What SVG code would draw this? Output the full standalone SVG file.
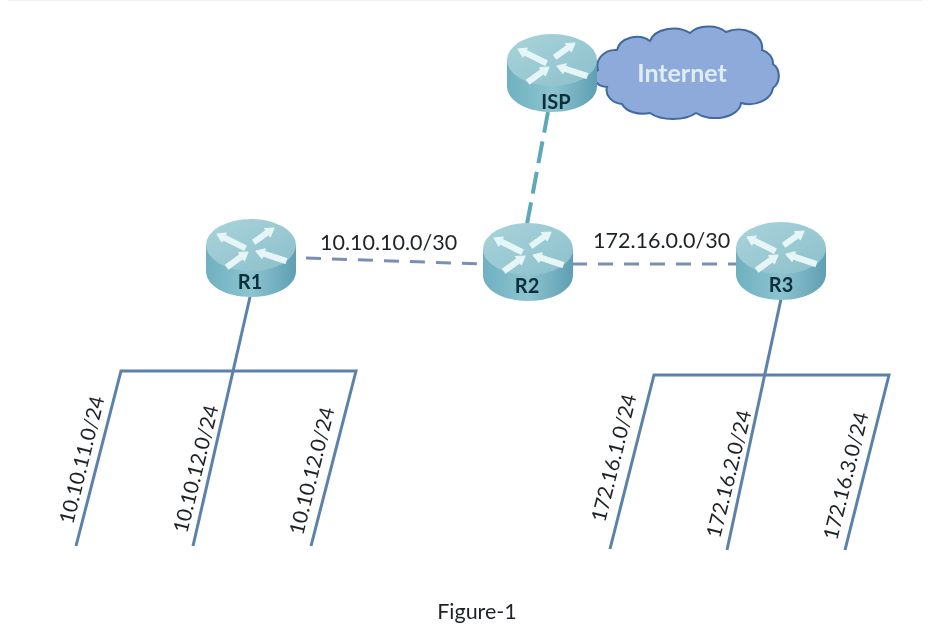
<svg xmlns="http://www.w3.org/2000/svg" width="930" height="637" viewBox="0 0 930 637">
<style>
text{font-family:Lato,"Open Sans","Liberation Sans",sans-serif;fill:#1f2326}
.lbl{font-size:21.5px}
.rl{font-size:20px;font-weight:700;fill:#0f2d3a;text-anchor:middle}
.net{font-size:20.5px}
.solid{fill:none;stroke:#5b82ac;stroke-width:3;stroke-linejoin:miter}
.dash{fill:none;stroke:#7a8fb0;stroke-width:3;stroke-dasharray:15 11}
</style>
<defs>
<filter id="soft" x="0" y="0" width="100%" height="100%"><feGaussianBlur stdDeviation="0.5"/></filter>
<linearGradient id="body" x1="0" x2="1" y1="0" y2="0"><stop offset="0" stop-color="#6fb0c0"/><stop offset=".5" stop-color="#8cc4d0"/><stop offset="1" stop-color="#5f9fb2"/></linearGradient>
<linearGradient id="top" x1="0" x2="1" y1="0" y2="1"><stop offset="0" stop-color="#a9d3da"/><stop offset="1" stop-color="#8cc0cb"/></linearGradient>
<g id="router">
<path d="M-45 -13V13C-45 28 -25 39 0 39S45 28 45 13V-13Z" fill="url(#body)"/>
<ellipse cx="0" cy="-13" rx="45" ry="26" fill="url(#top)"/>
<g fill="#e6f5f6" stroke="#e6f5f6" stroke-width="1.2" stroke-linejoin="round" transform="translate(0 -13)">
<polygon points="-34,-11 -24.8,-11.9 -25.9,-9.7 -4.9,0.8 -7.1,5.2 -28.1,-5.3 -29.2,-3.1"/>
<polygon points="23,-17 19.3,-8.3 17.8,-10.4 4.4,-1 1.6,-5 15,-14.4 13.6,-16.5"/>
<polygon points="-3,7 -6.6,15.7 -8,13.6 -22.5,24 -25.5,20 -11,9.6 -12.4,7.5"/>
<polygon points="5,6 11,13.3 11.8,11 34.2,18.4 35.8,13.6 13.4,6.2 14.2,3.9"/>
</g>
</g>
</defs>
<rect width="930" height="637" fill="#fff"/>
<g filter="url(#soft)">
<rect x="8" y="0" width="914" height="1" fill="#efefef"/>
<g id="connectors">
<path class="dash" d="M306 258L484 264"/>
<path class="dash" d="M572 264L737 264"/>
<path d="M527 224L548 112" fill="none" stroke="#5fa8b8" stroke-width="4" stroke-dasharray="22 9"/>
<path class="solid" d="M250 297L193 546"/>
<path class="solid" d="M76 546L121 371H356L311 546"/>
<path class="solid" d="M781 299L727 550"/>
<path class="solid" d="M610 549L654 375H889L845 550"/>
</g>
<g id="cloud">
<path d="M598 70A18 16 0 0 1 617 50A20 16 0 0 1 650 41A24 16 0 0 1 690 33A22 14 0 0 1 726 32A24 18 0 0 1 762 50A16 14 0 0 1 773 64A12 14 0 0 1 773 88A24 18 0 0 1 741 103A26 16 0 0 1 696 113A28 14 0 0 1 650 113A22 14 0 0 1 622 104A18 14 0 0 1 607 87A14 10 0 0 1 598 70Z" fill="#8eaadb" stroke="#3f6a9e" stroke-width="2"/>
<text x="682" y="82" text-anchor="middle" font-size="25" font-weight="700" style="fill:#dfeef2">Internet</text>
</g>
<g id="ISP"><use href="#router" x="552" y="73"/><text class="rl" x="556" y="109">ISP</text></g>
<g id="R1"><use href="#router" x="251" y="258"/><text class="rl" x="250" y="289">R1</text></g>
<g id="R2"><use href="#router" x="528" y="262"/><text class="rl" x="527" y="293">R2</text></g>
<g id="R3"><use href="#router" x="781" y="261"/><text class="rl" x="781" y="292">R3</text></g>
<g id="labels">
<text class="lbl" x="320" y="250">10.10.10.0/30</text>
<text class="lbl" x="593" y="248">172.16.0.0/30</text>
<text class="net" transform="translate(73 525) rotate(-76)">10.10.11.0/24</text>
<text class="net" transform="translate(187 534) rotate(-76)">10.10.12.0/24</text>
<text class="net" transform="translate(303 536) rotate(-76)">10.10.12.0/24</text>
<text class="net" transform="translate(605 523) rotate(-76)">172.16.1.0/24</text>
<text class="net" transform="translate(720 539) rotate(-76)">172.16.2.0/24</text>
<text class="net" transform="translate(837 541) rotate(-76)">172.16.3.0/24</text>
<text x="477" y="619" text-anchor="middle" font-size="21.5">Figure-1</text>
</g>
</g>
</svg>
